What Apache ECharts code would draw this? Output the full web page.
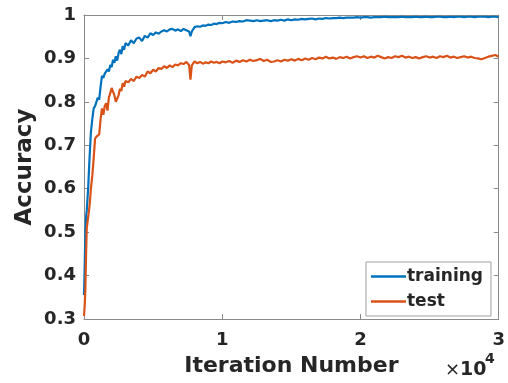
<!DOCTYPE html>
<html>
<head>
<meta charset="utf-8">
<script src="https://cdn.jsdelivr.net/npm/echarts@6/dist/echarts.min.js"></script>
<style>
  html, body { margin: 0; padding: 0; background: #fff; }
  #chart { width: 508px; height: 383px; }
</style>
</head>
<body>
<div id="chart"></div>
<script>
// iteration numbers (x)
var iters = [0, 50, 100, 150, 200, 250, 300, 400, 500, 600, 700, 800, 900, 1000,
  1100, 1200, 1300, 1400, 1500, 1600, 1700, 1800, 1900, 2000, 2100, 2200, 2300,
  2400, 2500, 2600, 2700, 2800, 2900, 3000,
  3200, 3400, 3600, 3800, 4000, 4200, 4400, 4600, 4800, 5000, 5200, 5400, 5600,
  5800, 6000, 6200, 6400, 6600, 6800, 7000, 7200, 7400, 7600, 7700, 7800,
  8000, 8200, 8400, 8600, 8800, 9000, 9200, 9400, 9600, 9800, 10000,
  10250, 10500, 10750, 11000, 11250, 11500, 11750, 12000, 12250, 12500, 12750,
  13000, 13250, 13500, 13750, 14000, 14250, 14500, 14750, 15000, 15250, 15500,
  15750, 16000, 16250, 16500, 16750, 17000, 17250, 17500, 17750, 18000, 18250,
  18500, 18750, 19000, 19250, 19500, 19750, 20000, 20250, 20500, 20750, 21000,
  21250, 21500, 21750, 22000, 22250, 22500, 22750, 23000, 23250, 23500, 23750,
  24000, 24250, 24500, 24750, 25000, 25250, 25500, 25750, 26000, 26250, 26500,
  26750, 27000, 27250, 27500, 27750, 28000, 28250, 28500, 28750, 29000, 29250,
  29500, 29750, 30000];

var training = [0.355, 0.42, 0.50, 0.535, 0.55, 0.575, 0.60, 0.67, 0.73, 0.76, 0.785, 0.79, 0.80, 0.81,
  0.805, 0.835, 0.86, 0.855, 0.865, 0.862, 0.875, 0.87, 0.885, 0.88, 0.897, 0.89, 0.905,
  0.895, 0.912, 0.92, 0.91, 0.928, 0.92, 0.935,
  0.93, 0.942, 0.935, 0.946, 0.948, 0.94, 0.952, 0.948, 0.958, 0.954, 0.96, 0.957, 0.962,
  0.965, 0.962, 0.967, 0.968, 0.964, 0.967, 0.963, 0.968, 0.965, 0.962, 0.951, 0.962,
  0.972, 0.974, 0.973, 0.976, 0.975, 0.978, 0.977, 0.98, 0.979, 0.982, 0.981,
  0.984, 0.982, 0.985, 0.984, 0.986, 0.985, 0.988, 0.987, 0.986, 0.988, 0.986,
  0.987, 0.988, 0.986, 0.988, 0.987, 0.989, 0.987, 0.99, 0.988, 0.99, 0.989,
  0.991, 0.99, 0.991, 0.992, 0.99, 0.992, 0.991, 0.993, 0.992, 0.993, 0.993,
  0.994, 0.993, 0.994, 0.994, 0.994, 0.995, 0.994, 0.995, 0.995, 0.994, 0.995,
  0.995, 0.995, 0.996, 0.995, 0.995, 0.995, 0.995, 0.996, 0.995, 0.995, 0.995,
  0.996, 0.995, 0.995, 0.996, 0.995, 0.995, 0.996, 0.996, 0.995, 0.995, 0.996,
  0.995, 0.996, 0.996, 0.995, 0.996, 0.996, 0.995, 0.996, 0.996, 0.996, 0.995,
  0.996, 0.996, 0.995];

var test = [0.307, 0.33, 0.37, 0.45, 0.51, 0.522, 0.525, 0.56, 0.60, 0.63, 0.67, 0.715, 0.72, 0.718,
  0.725, 0.76, 0.785, 0.77, 0.79, 0.797, 0.78, 0.81, 0.82, 0.832, 0.83, 0.815, 0.80,
  0.797, 0.815, 0.83, 0.825, 0.843, 0.835, 0.848,
  0.845, 0.853, 0.848, 0.858, 0.855, 0.862, 0.858, 0.87, 0.866, 0.874, 0.87, 0.878, 0.876,
  0.882, 0.878, 0.884, 0.88, 0.886, 0.884, 0.889, 0.887, 0.892, 0.885, 0.851, 0.884,
  0.893, 0.889, 0.892, 0.888, 0.891, 0.889, 0.893, 0.89, 0.892, 0.889, 0.893,
  0.891, 0.894, 0.89, 0.895, 0.892, 0.896, 0.893, 0.897, 0.894, 0.896, 0.899,
  0.894, 0.897, 0.892, 0.893, 0.896, 0.893, 0.897, 0.895, 0.898, 0.895, 0.899,
  0.896, 0.9, 0.897, 0.901, 0.898, 0.902, 0.9, 0.904, 0.9, 0.902, 0.899,
  0.903, 0.901, 0.904, 0.9, 0.903, 0.905, 0.902, 0.905, 0.901, 0.904, 0.902,
  0.906, 0.903, 0.9, 0.903, 0.901, 0.905, 0.903, 0.906, 0.902, 0.904, 0.901,
  0.903, 0.9, 0.903, 0.905, 0.902, 0.904, 0.901, 0.905, 0.903, 0.906, 0.902,
  0.904, 0.901, 0.903, 0.905, 0.902, 0.904, 0.901, 0.9, 0.898, 0.901, 0.904,
  0.906, 0.908, 0.904];

function pairs(xs, ys){
  var out = [];
  for(var i=0; i<xs.length; i++){
    out.push([xs[i], ys[i]]);
  }
  return out;
}

var chart = echarts.init(document.getElementById('chart'), null, {renderer: 'canvas'});
var FONT = 'DejaVu Sans';
var TXT = '#262626';
var AX = '#8a8a8a';

var baseX = {
  type: 'value', min: 0, max: 30000, interval: 10000,
  axisLine: {show: true, onZero: false, lineStyle: {color: AX, width: 1}},
  axisTick: {show: true, inside: true, length: 5, lineStyle: {color: AX}},
  splitLine: {show: false}
};
var baseY = {
  type: 'value', min: 0.3, max: 1, interval: 0.1,
  axisLine: {show: true, onZero: false, lineStyle: {color: AX, width: 1}},
  axisTick: {show: true, inside: true, length: 5, lineStyle: {color: AX}},
  splitLine: {show: false}
};

var option = {
  animation: false,
  backgroundColor: '#fff',
  grid: {left: 84, right: 8, top: 15, bottom: 64},
  legend: {
    orient: 'vertical',
    right: 17, top: 262,
    backgroundColor: '#fff',
    borderColor: '#a0a0a0', borderWidth: 1,
    padding: [6, 8, 6, 5],
    itemGap: 8,
    icon: 'rect',
    itemWidth: 35, itemHeight: 2.5,
    textStyle: {fontFamily: FONT, fontWeight: 'bold', fontSize: 17, color: TXT, padding: [0, 0, 0, -4]},
    data: ['training', 'test']
  },
  xAxis: [
    Object.assign({}, baseX, {
      position: 'bottom',
      name: 'Iteration Number', nameLocation: 'middle', nameGap: 36,
      nameMoveOverlap: false,
      nameTextStyle: {fontFamily: FONT, fontWeight: 'bold', fontSize: 22, color: TXT},
      axisLabel: {fontFamily: FONT, fontWeight: 'bold', fontSize: 18, color: TXT, margin: 12,
        formatter: function(v){ return String(v/10000); }}
    }),
    Object.assign({}, baseX, {position: 'top', axisLabel: {show: false}})
  ],
  yAxis: [
    Object.assign({}, baseY, {
      position: 'left',
      name: 'Accuracy', nameLocation: 'middle', nameGap: 47,
      nameMoveOverlap: false,
      nameTextStyle: {fontFamily: FONT, fontWeight: 'bold', fontSize: 23, color: TXT},
      axisLabel: {fontFamily: FONT, fontWeight: 'bold', fontSize: 18, color: TXT, margin: 8,
        formatter: function(v){ return String(+v.toFixed(1)); }}
    }),
    Object.assign({}, baseY, {position: 'right', axisLabel: {show: false}})
  ],
  series: [
    {
      name: 'training', type: 'line', symbol: 'none',
      xAxisIndex: 0, yAxisIndex: 0,
      lineStyle: {color: '#0072BD', width: 2.2},
      itemStyle: {color: '#0072BD'},
      data: pairs(iters, training)
    },
    {
      name: 'test', type: 'line', symbol: 'none',
      xAxisIndex: 0, yAxisIndex: 0,
      lineStyle: {color: '#D95319', width: 2.2},
      itemStyle: {color: '#D95319'},
      data: pairs(iters, test)
    }
  ],
  graphic: [
    {
      type: 'text', left: 445, top: 361,
      style: {
        text: '{a|×}{b|10}',
        rich: {
          a: {fontFamily: FONT, fontSize: 18, fill: TXT},
          b: {fontFamily: FONT, fontSize: 19, fontWeight: 'bold', fill: TXT}
        }
      }
    },
    {
      type: 'text', left: 485, top: 352,
      style: {text: '4', fontFamily: FONT, fontSize: 14, fontWeight: 'bold', fill: TXT}
    }
  ]
};
chart.setOption(option);
</script>
</body>
</html>
